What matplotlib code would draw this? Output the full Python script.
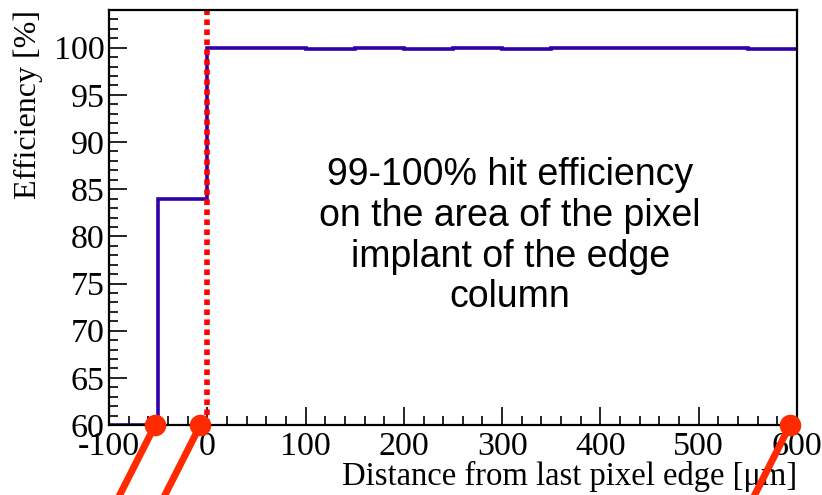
import numpy as np
import matplotlib.pyplot as plt
from matplotlib.ticker import MultipleLocator

plt.rcParams["axes.unicode_minus"] = False

# efficiency per 50 um bin across the edge region
bin_edges = [-100, -50, 0, 50, 100, 150, 200, 250, 300, 350, 400, 450, 500, 550, 600]
efficiency = [60.0, 84.0, 100.0, 100.0, 99.9, 100.0, 99.9, 100.0, 99.9, 100.0, 100.0, 100.0, 100.0, 99.9]

# last pixel edge position and highlighted points on the axis
edge_pos = 0
marker_x = [-53, -7, 593]
marker_y = [60, 60, 60]

note = "99-100% hit efficiency\non the area of the pixel\nimplant of the edge\ncolumn"

fig = plt.figure(figsize=(8.22, 4.95), dpi=100)
ax = fig.add_axes([0.1326, 0.1414, 0.837, 0.8384])

blue = "#3000a8"
ax.stairs(efficiency, bin_edges, baseline=None, color=blue, lw=2.6)
ax.axvline(edge_pos, ymin=0, ymax=1, color="#ff0000", lw=4, ls=(0, (1.0, 0.8)))

ax.set_xlim(-100, 600)
ax.set_ylim(60, 104)

serif = "Liberation Serif"
ax.xaxis.set_major_locator(MultipleLocator(100))
ax.xaxis.set_minor_locator(MultipleLocator(20))
ax.yaxis.set_major_locator(MultipleLocator(5))
ax.yaxis.set_minor_locator(MultipleLocator(1))
ax.tick_params(which="both", direction="in", top=False, right=False, width=1.2, colors="black")
ax.tick_params(which="major", length=13)
ax.tick_params(which="minor", length=6.5)
ax.tick_params(axis="x", pad=5)
ax.tick_params(axis="y", pad=3)
for lbl in ax.get_xticklabels() + ax.get_yticklabels():
    lbl.set_fontfamily(serif)
    lbl.set_fontsize(24.5)
for s in ax.spines.values():
    s.set_linewidth(1.6)

ax.set_xlabel("Distance from last pixel edge [\u03bcm]", fontfamily=serif, fontsize=23.5,
              loc="right", labelpad=-1)
ax.set_ylabel("Efficiency [%]", fontfamily=serif, fontsize=23, loc="top", labelpad=8)

ax.text(0.583, 0.455, note, transform=ax.transAxes, ha="center", va="center",
        fontfamily="Liberation Sans", fontsize=27, linespacing=1.17)

# red pointer markers with lines running off the bottom
red = "#ff2a00"
for mx, my in zip(marker_x, marker_y):
    ax.annotate("", xy=(mx, my), xytext=(-38, -75), textcoords="offset pixels",
                arrowprops=dict(arrowstyle="-", color=red, lw=5, shrinkA=0, shrinkB=0),
                annotation_clip=False)
ax.plot(marker_x, marker_y, "o", color=red, ms=14.5, clip_on=False, zorder=5)

fig.savefig("out.png", dpi=100)
